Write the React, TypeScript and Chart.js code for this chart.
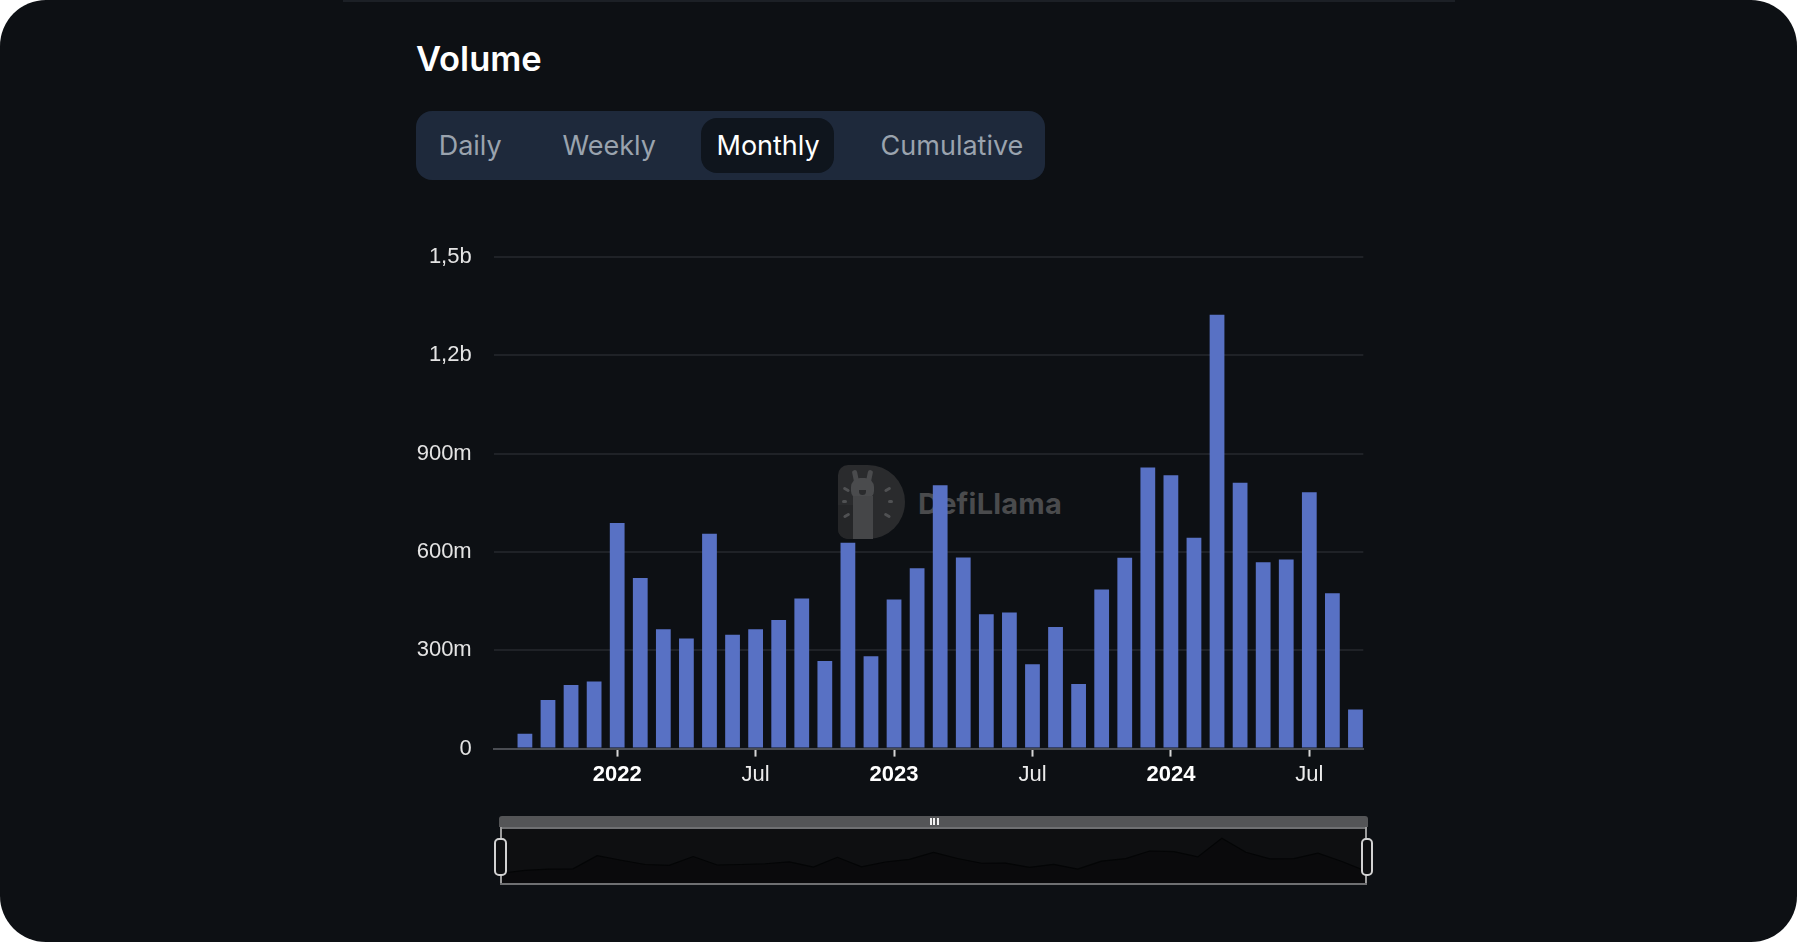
import React, { useEffect, useRef } from 'react';
import { Chart, registerables } from 'chart.js';

Chart.register(...registerables);

// ---- data ----
const months = [
  '2021-09', '2021-10', '2021-11', '2021-12',
  '2022-01', '2022-02', '2022-03', '2022-04', '2022-05', '2022-06',
  '2022-07', '2022-08', '2022-09', '2022-10', '2022-11', '2022-12',
  '2023-01', '2023-02', '2023-03', '2023-04', '2023-05', '2023-06',
  '2023-07', '2023-08', '2023-09', '2023-10', '2023-11', '2023-12',
  '2024-01', '2024-02', '2024-03', '2024-04', '2024-05', '2024-06',
  '2024-07', '2024-08', '2024-09',
];
// monthly volume, in millions of USD
const volumes = [
  45, 148, 194, 205,
  688, 520, 364, 336, 655, 347, 364, 392, 458, 267, 628, 282,
  455, 550, 803, 583, 410, 415, 257, 371, 197, 485, 582, 857,
  834, 643, 1323, 811, 568, 577, 782, 474, 119,
];
const xTickPositions = [4, 10, 16, 22, 28, 34];
const xTickLabels = ['2022', 'Jul', '2023', 'Jul', '2024', 'Jul'];
const yTickValues = [0, 300, 600, 900, 1200, 1500];
const yTickLabels = ['0', '300m', '600m', '900m', '1,2b', '1,5b'];
const tabs = ['Daily', 'Weekly', 'Monthly', 'Cumulative'];
const selectedTab = 'Monthly';

const FONT = '"Liberation Sans", Arial, Helvetica, sans-serif';
const UI_FONT = 'Inter, "Noto Sans", sans-serif';

function MainChart() {
  const ref = useRef<HTMLCanvasElement | null>(null);
  useEffect(() => {
    if (!ref.current) return;
    const chart = new Chart(ref.current, {
      type: 'bar',
      data: {
        datasets: [
          {
            label: 'Volume',
            data: volumes.map((v, i) => ({ x: i, y: v })),
            backgroundColor: '#5871c4',
            borderWidth: 0,
            categoryPercentage: 1,
            barPercentage: 0.64,
          },
        ],
      },
      options: {
        animation: false,
        responsive: false,
        devicePixelRatio: 1,
        layout: { padding: { left: 0, right: 16.7, top: 26.8, bottom: 0 } },
        plugins: { legend: { display: false }, tooltip: { enabled: false } },
        scales: {
          x: {
            type: 'linear',
            min: -1.34,
            max: 36.34,
            offset: false,
            afterBuildTicks: (scale: any) => {
              scale.ticks = xTickPositions.map((v) => ({ value: v }));
            },
            afterFit: (scale: any) => {
              scale.height = 61.4;
              scale.paddingLeft = 0;
              scale.paddingRight = 0;
            },
            grid: {
              offset: false,
              display: true,
              drawOnChartArea: false,
              drawTicks: true,
              tickLength: 8,
              tickColor: '#d6d6d6',
              tickWidth: 2,
            },
            border: { display: true, color: '#4a4d53', width: 2 },
            ticks: {
              autoSkip: false,
              maxRotation: 0,
              padding: 5,
              callback: (value: any) => {
                const idx = xTickPositions.indexOf(Number(value));
                return idx >= 0 ? xTickLabels[idx] : '';
              },
              color: (ctx: any) => (/^\d{4}$/.test(xTickLabels[ctx.index] || '') ? '#ffffff' : '#ececec'),
              font: (ctx: any) => ({
                family: FONT,
                size: 22,
                weight: /^\d{4}$/.test(xTickLabels[ctx.index] || '') ? 'bold' : 'normal',
              }),
            },
          },
          y: {
            type: 'linear',
            min: 0,
            max: 1500,
            afterBuildTicks: (scale: any) => {
              scale.ticks = yTickValues.map((v) => ({ value: v }));
            },
            afterFit: (scale: any) => {
              scale.width = 114;
              scale.paddingTop = 0;
              scale.paddingBottom = 0;
            },
            grid: {
              color: '#1f2227',
              lineWidth: 2,
              drawTicks: false,
            },
            border: { display: false },
            ticks: {
              padding: 22.3,
              color: '#e4e4e4',
              font: { family: FONT, size: 22 },
              callback: (value: any) => {
                const idx = yTickValues.indexOf(Number(value));
                return idx >= 0 ? yTickLabels[idx] : '';
              },
            },
          },
        },
      } as any,
    });
    return () => chart.destroy();
  }, []);
  return (
    <canvas
      ref={ref}
      width={1000}
      height={580}
      style={{ position: 'absolute', left: 380, top: 230, width: 1000, height: 580 }}
    />
  );
}

function MiniChart() {
  const ref = useRef<HTMLCanvasElement | null>(null);
  useEffect(() => {
    if (!ref.current) return;
    const chart = new Chart(ref.current, {
      type: 'line',
      data: {
        labels: months,
        datasets: [
          {
            data: volumes,
            borderColor: '#040506',
            borderWidth: 1.2,
            backgroundColor: 'rgba(0,0,0,0.28)',
            fill: 'start',
            pointRadius: 0,
            tension: 0,
          },
        ],
      },
      options: {
        animation: false,
        responsive: false,
        devicePixelRatio: 1,
        layout: { padding: 0 },
        plugins: { legend: { display: false }, tooltip: { enabled: false } },
        scales: {
          x: { display: false, offset: false },
          y: { display: false, min: -347, max: 1660 },
        },
      } as any,
    });
    return () => chart.destroy();
  }, []);
  return (
    <canvas
      ref={ref}
      width={865}
      height={55}
      style={{ position: 'absolute', left: 501, top: 829, width: 865, height: 55 }}
    />
  );
}

const abs = (s: React.CSSProperties): React.CSSProperties => ({ position: 'absolute', ...s });

export default function App() {
  const tabLefts = [438.7, 562.5, 716.5, 880.6];
  const rays = [
    { l: 843, t: 488, w: 7, h: 2.5, r: 30 },
    { l: 842, t: 500, w: 5, h: 2.5, r: 0 },
    { l: 843, t: 514, w: 7, h: 2.5, r: -30 },
    { l: 884, t: 488, w: 7, h: 2.5, r: -30 },
    { l: 888, t: 500, w: 5, h: 2.5, r: 0 },
    { l: 884, t: 514, w: 7, h: 2.5, r: 30 },
  ];
  return (
    <div style={{ position: 'fixed', left: 0, top: 0, width: 1797, height: 942, background: '#ffffff', overflow: 'hidden' }}>
      <div style={abs({ left: 0, top: 0, width: 1797, height: 942, borderRadius: 46, background: '#0d1014', overflow: 'hidden' })}>
        {/* thin top line */}
        <div style={abs({ left: 343, top: 0, width: 1112, height: 1.5, background: '#1c2026' })} />

        {/* title */}
        <div style={abs({ left: 416, top: 42.3, height: 34, lineHeight: '34px', fontFamily: UI_FONT, fontWeight: 600, fontSize: 34.5, color: '#ffffff', whiteSpace: 'nowrap' })}>
          Volume
        </div>

        {/* tabs */}
        <div style={abs({ left: 416, top: 110.7, width: 629, height: 69.3, borderRadius: 16, background: '#1e293b' })} />
        <div style={abs({ left: 701, top: 118, width: 133, height: 55, borderRadius: 16, background: '#0f151d' })} />
        {tabs.map((t, i) => (
          <div
            key={t}
            style={abs({
              left: tabLefts[i],
              top: 110.7,
              height: 69.3,
              lineHeight: '69.3px',
              fontFamily: UI_FONT,
              fontSize: 27,
              fontWeight: 400,
              color: t === selectedTab ? '#ffffff' : '#9aa3ae',
              whiteSpace: 'nowrap',
            })}
          >
            {t}
          </div>
        ))}

        {/* watermark (behind bars) */}
        <div style={abs({ left: 838, top: 465, width: 67, height: 74, borderRadius: '10px 37px 37px 10px', background: '#2a2b2d' })} />
        <div style={abs({ left: 838, top: 505, width: 30, height: 34, borderRadius: '0 0 0 10px', background: '#252628' })} />
        {rays.map((r, i) => (
          <div key={i} style={abs({ left: r.l, top: r.t, width: r.w, height: r.h, borderRadius: 2, background: '#505153', transform: `rotate(${r.r}deg)` })} />
        ))}
        <div style={abs({ left: 853, top: 470, width: 5, height: 13, borderRadius: 3, background: '#4a4b4d', transform: 'rotate(-12deg)' })} />
        <div style={abs({ left: 867, top: 470, width: 5, height: 13, borderRadius: 3, background: '#4a4b4d', transform: 'rotate(12deg)' })} />
        <div style={abs({ left: 851, top: 478, width: 23, height: 22, borderRadius: 9, background: '#4a4b4d' })} />
        <div style={abs({ left: 859, top: 490, width: 7, height: 5, borderRadius: '0 0 4px 4px', background: '#2a2b2d' })} />
        <div style={abs({ left: 853, top: 496, width: 20, height: 43, background: '#454648' })} />
        <div style={abs({ left: 918, top: 489, height: 29, lineHeight: '29px', fontFamily: UI_FONT, fontWeight: 700, fontSize: 29, color: '#4a4b4d', whiteSpace: 'nowrap', letterSpacing: 0.2 })}>
          DefiLlama
        </div>

        <MainChart />

        {/* data zoom slider */}
        <div style={abs({ left: 501, top: 828, width: 865, height: 56, background: '#0e0f11' })} />
        <MiniChart />
        <div style={abs({ left: 499.3, top: 816, width: 868.7, height: 11, background: '#545557', borderRadius: '3px 3px 0 0' })} />
        <div style={abs({ left: 929.5, top: 818, width: 2, height: 7, background: '#f0f0f0' })} />
        <div style={abs({ left: 933, top: 818, width: 2, height: 7, background: '#f0f0f0' })} />
        <div style={abs({ left: 936.5, top: 818, width: 2, height: 7, background: '#f0f0f0' })} />
        <div style={abs({ left: 500, top: 827, width: 867, height: 2, background: '#6f7072' })} />
        <div style={abs({ left: 500, top: 827, width: 2, height: 58, background: '#9c9c9c' })} />
        <div style={abs({ left: 1365, top: 827, width: 2, height: 58, background: '#9c9c9c' })} />
        <div style={abs({ left: 500, top: 883, width: 867, height: 2, background: '#6f7072' })} />
        <div style={abs({ left: 494.3, top: 837.7, width: 12.4, height: 38, boxSizing: 'border-box', border: '2px solid #d2d2d2', borderRadius: 5, background: '#0e0f11' })} />
        <div style={abs({ left: 1360.7, top: 837.7, width: 12.4, height: 38, boxSizing: 'border-box', border: '2px solid #d2d2d2', borderRadius: 5, background: '#0e0f11' })} />
      </div>
    </div>
  );
}
